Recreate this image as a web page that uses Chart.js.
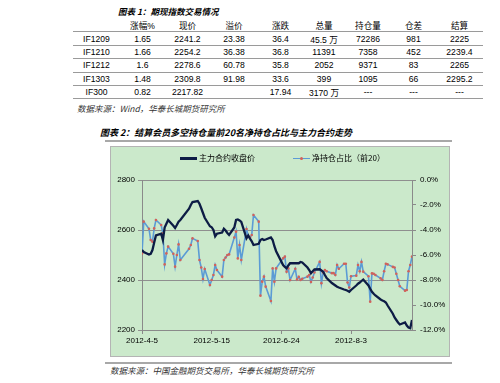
<!DOCTYPE html>
<html>
<head>
<meta charset="utf-8">
<script src="https://cdn.jsdelivr.net/npm/chart.js@4.4.1/dist/chart.umd.min.js"></script>
<style>
  body { margin: 0; width: 500px; height: 383px; background: #fff; position: relative; overflow: hidden;
         font-family: "Liberation Sans", "Noto Sans CJK SC", sans-serif; color: #000; }
  .abs { position: absolute; white-space: nowrap; line-height: 1; }
  .ttl { font-family: "Noto Sans CJK SC", sans-serif; font-weight: bold; font-style: italic; }
  .src { font-family: "Noto Sans CJK SC", sans-serif; font-style: italic; font-size: 8.5px; color: #333; }
  #tbl { position: absolute; left: 73px; top: 19px; width: 410px; border-collapse: collapse; table-layout: fixed;
         font-size: 8.6px; font-family: "Liberation Sans", "Noto Sans CJK SC", sans-serif; }
  #tbl td { text-align: center; padding: 0; border-bottom: 1px solid #9a9a9a; height: 12.4px; }
  #tbl tr:first-child td { border-top: 1.5px solid #7a7a7a; height: 13px; font-family: "Noto Sans CJK SC", sans-serif; }
  .rule { position: absolute; left: 105px; width: 347px; height: 2px; background: #a8a8a8; }
  #box { position: absolute; left: 110px; top: 146px; width: 338px; height: 209px; background: #cbe9cb; border: 1px solid #b4b4b4; }
  #c { position: absolute; left: 110px; top: 146px; }
  .leg { font-family: "Noto Sans CJK SC", sans-serif; font-size: 8px; }
</style>
</head>
<body>
<div class="abs ttl" style="left:118px; top:7px; font-size:8.5px;">图表 1：期现指数交易情况</div>
<table id="tbl"></table>
<div class="abs src" style="left:77px; top:104px;">数据来源：Wind，华泰长城期货研究所</div>

<div class="abs ttl" style="left:100px; top:128px; font-size:9px;">图表 2：结算会员多空持仓量前20名净持仓占比与主力合约走势</div>
<div class="rule" style="top:140px;"></div>
<div id="box"></div>
<canvas id="c" width="340" height="211"></canvas>

<!-- 图例 -->
<div class="abs" style="left:180px; top:157px; width:17px; height:2.5px; background:#0d1c45;"></div>
<div class="abs leg" style="left:199px; top:154px;">主力合约收盘价</div>
<div class="abs" style="left:293px; top:157.5px; width:17px; height:1.5px; background:#5b9bd5;"></div>
<div class="abs" style="left:300px; top:156.5px; width:3px; height:3px; border-radius:50%; background:#d2625a;"></div>
<div class="abs leg" style="left:312px; top:154px;">净持仓占比（前20）</div>

<div class="rule" style="top:362px;"></div>
<div class="abs src" style="left:110px; top:366px;">数据来源：中国金融期货交易所，华泰长城期货研究所</div>

<script>
// 表格数据
const tableHead = ['', '涨幅%', '现价', '溢价', '涨跌', '总量', '持仓量', '仓差', '结算'];
const tableRows = [
  ['IF1209', '1.65', '2241.2', '23.38', '36.4', '45.5 万', '72286', '981', '2225'],
  ['IF1210', '1.66', '2254.2', '36.38', '36.8', '11391', '7358', '452', '2239.4'],
  ['IF1212', '1.6', '2278.6', '60.78', '35.8', '2052', '9371', '83', '2265'],
  ['IF1303', '1.48', '2309.8', '91.98', '33.6', '399', '1095', '66', '2295.2'],
  ['IF300', '0.82', '2217.82', '', '17.94', '3170 万', '---', '---', '---']
];
const colWidths = [47, 45, 45, 48, 45, 42, 46, 45, 47];

// 图表数据（2012年交易日）
const dates = ['4-5','4-6','4-9','4-10','4-11','4-12','4-13','4-16','4-17','4-18','4-19','4-20','4-23','4-24','4-25','4-26','4-27',
  '5-2','5-3','5-4','5-7','5-8','5-9','5-10','5-11','5-14','5-15','5-16','5-17','5-18','5-21','5-22','5-23','5-24','5-25','5-28','5-29','5-30','5-31',
  '6-1','6-4','6-5','6-6','6-7','6-8','6-11','6-12','6-13','6-14','6-15','6-18','6-19','6-20','6-21','6-25','6-26','6-27','6-28','6-29',
  '7-2','7-3','7-4','7-5','7-6','7-9','7-10','7-11','7-12','7-13','7-16','7-17','7-18','7-19','7-20','7-23','7-24','7-25','7-26','7-27','7-30','7-31',
  '8-1','8-2','8-3','8-6','8-7','8-8','8-9','8-10','8-13','8-14','8-15','8-16','8-17','8-20','8-21','8-22','8-23','8-24','8-27','8-28','8-29','8-30','8-31',
  '9-3','9-4','9-5','9-6','9-7'];
const closePrice = [2520,2512,2502,2505,2520,2550,2578,2585,2560,2610,2625,2640,2617,2608,2620,2633,2640,
  2685,2700,2712,2716,2705,2687,2668,2649,2615,2611,2600,2575,2585,2590,2605,2598,2588,2580,2610,2640,2642,2638,
  2632,2567,2578,2565,2555,2540,2545,2560,2564,2560,2562,2570,2560,2535,2515,2460,2452,2447,2458,2467,
  2467,2467,2467,2472,2470,2450,2440,2427,2435,2442,2443,2438,2433,2420,2408,2388,2383,2378,2373,2370,2362,2360,
  2357,2353,2360,2378,2385,2390,2396,2402,2378,2365,2353,2345,2338,2322,2318,2315,2310,2298,2265,2250,2240,2230,2222,
  2230,2218,2210,2207,2240];
const netRatio = [-5.87,-3.33,-3.9,-4.8,-4.93,-3.87,-3.2,-3.6,-4.27,-6.75,-5.87,-5.33,-5.9,-6.93,-6.0,-5.15,-6.4,
  -5.5,-5.2,-4.67,-4.88,-6.4,-7.0,-7.92,-7.12,-8.4,-8.0,-7.6,-6.8,-7.2,-7.73,-6.4,-6.2,-6.0,-5.95,-4.6,-4.13,-6.27,-5.2,
  -6.4,-3.92,-4.5,-4.6,-4.4,-2.8,-3.33,-9.25,-8.13,-7.73,-8.53,-9.68,-7.07,-8.13,-7.07,-6.27,-6.13,-7.33,-7.07,-8.0,
  -7.1,-7.95,-7.75,-8.0,-7.9,-7.73,-7.6,-8.15,-7.8,-7.4,-6.55,-8.25,-7.4,-7.2,-7.3,-7.45,-7.45,-7.6,-6.8,-7.1,-6.7,-6.7,
  -8.2,-8.6,-7.7,-7.65,-6.8,-7.3,-6.55,-7.33,-7.7,-9.73,-7.47,-7.5,-7.6,-7.87,-8.0,-7.3,-6.7,-6.75,-6.95,-7.0,-7.5,-8.0,-8.5,
  -8.85,-8.8,-7.3,-6.8,-6.13];
const xTickLabels = ['2012-4-5', '2012-5-15', '2012-6-24', '2012-8-3'];

// 构建表格
const tbl = document.getElementById('tbl');
const cg = document.createElement('colgroup');
colWidths.forEach(w => { const c = document.createElement('col'); c.style.width = w + 'px'; cg.appendChild(c); });
tbl.appendChild(cg);
[tableHead, ...tableRows].forEach(r => {
  const tr = document.createElement('tr');
  r.forEach(v => { const td = document.createElement('td'); td.textContent = v; tr.appendChild(td); });
  tbl.appendChild(tr);
});

// 日期 -> 距 2012-4-5 的天数
const base = Date.UTC(2012, 3, 5);
function dayOf(s) {
  const p = s.replace(/^2012-/, '').split('-').map(Number);
  return Math.round((Date.UTC(2012, p[0] - 1, p[1]) - base) / 86400000);
}
const days = dates.map(dayOf);
const tickDays = xTickLabels.map(dayOf);

const tickFont = { family: '"Liberation Sans", sans-serif', size: 8 };

new Chart(document.getElementById('c'), {
  type: 'line',
  data: {
    datasets: [{
      label: '主力合约收盘价',
      data: days.map((d, i) => ({ x: d, y: closePrice[i] })),
      borderColor: '#0d1c45',
      borderWidth: 2.3,
      pointRadius: 0,
      yAxisID: 'y'
    }, {
      label: '净持仓占比（前20）',
      data: days.map((d, i) => ({ x: d, y: netRatio[i] })),
      borderColor: '#5b9bd5',
      borderWidth: 1.6,
      pointRadius: 1.3,
      pointBorderWidth: 0,
      pointBackgroundColor: '#d2625a',
      yAxisID: 'y1'
    }]
  },
  options: {
    responsive: false,
    devicePixelRatio: 1,
    animation: false,
    layout: { padding: { top: 34, left: 0, right: 0, bottom: 0 } },
    plugins: { legend: { display: false }, tooltip: { enabled: false } },
    scales: {
      x: {
        type: 'linear', min: 0, max: 155,
        afterBuildTicks: s => { s.ticks = tickDays.map(v => ({ value: v })); },
        afterFit: s => { s.height = 27; },
        ticks: { callback: (v) => xTickLabels[tickDays.indexOf(v)], font: tickFont, color: '#000', padding: 2, maxRotation: 0, autoSkip: false },
        grid: { drawOnChartArea: false, tickLength: 4, color: '#8a8a8a' },
        border: { color: '#8a8a8a' }
      },
      y: {
        position: 'left', min: 2200, max: 2800,
        afterFit: s => { s.width = 32; },
        ticks: { stepSize: 200, font: tickFont, color: '#000', padding: 3, callback: v => String(v) },
        grid: { color: '#8f8f8f', tickLength: 4 },
        border: { color: '#8a8a8a' }
      },
      y1: {
        position: 'right', min: -12, max: 0,
        afterFit: s => { s.width = 38; },
        ticks: { stepSize: 2, font: tickFont, color: '#000', padding: 4, callback: v => v.toFixed(1) + '%' },
        grid: { drawOnChartArea: false, tickLength: 4, color: '#8a8a8a' },
        border: { color: '#8a8a8a' }
      }
    }
  }
});
</script>
</body>
</html>
